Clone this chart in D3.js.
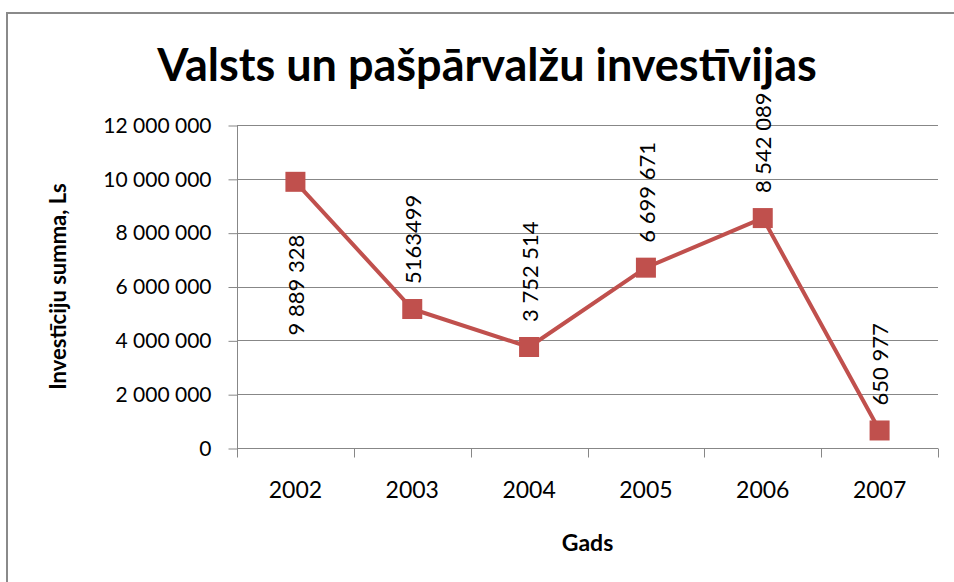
<!DOCTYPE html>
<html>
<head>
<meta charset="utf-8">
<script src="https://cdn.jsdelivr.net/npm/d3@7"></script>
<style>
  body { margin: 0; background: #fff; }
  text { font-family: Lato, "Open Sans", sans-serif; fill: #000; }
</style>
</head>
<body>
<svg id="chart"></svg>
<script>
var years = ["2002", "2003", "2004", "2005", "2006", "2007"];
var values = [9889328, 5163499, 3752514, 6699671, 8542089, 650977];
var labels = ["9 889 328", "5163499", "3 752 514", "6 699 671", "8 542 089", "650 977"];
var labelBelow = [true, false, false, false, false, false];
var yTicks = [0, 2000000, 4000000, 6000000, 8000000, 10000000, 12000000];

var W = 954, H = 582;
var plotLeft = 237, plotRight = 938, plotTop = 125, plotBottom = 448;
var red = "#C0504D", grid = "#878787";

var svg = d3.select("#chart")
  .attr("width", W)
  .attr("height", H);

// outer chart border
svg.append("rect")
  .attr("x", 7)
  .attr("y", 13)
  .attr("width", 960)
  .attr("height", 600)
  .attr("fill", "#fff")
  .attr("stroke", "#8a8a8a")
  .attr("stroke-width", 2);

var x = d3.scaleBand().domain(years).range([plotLeft, plotRight]);
var y = d3.scaleLinear().domain([0, 12000000]).range([plotBottom, plotTop]);

var fmt = function(v) { return d3.format(",")(v).replace(/,/g, " "); };

// gridlines
svg.append("g").selectAll("line")
  .data(yTicks)
  .enter().append("line")
  .attr("x1", plotLeft)
  .attr("x2", plotRight)
  .attr("y1", function(d) { return Math.round(y(d)) + 0.5; })
  .attr("y2", function(d) { return Math.round(y(d)) + 0.5; })
  .attr("stroke", grid)
  .attr("stroke-width", 1);

// y axis
var yAxis = svg.append("g")
  .attr("transform", "translate(" + (plotLeft + 0.5) + ",0.5)")
  .call(d3.axisLeft(y).tickValues(yTicks).tickSize(9).tickPadding(17).tickFormat(fmt));
yAxis.selectAll("line, path").attr("stroke", grid);
yAxis.select(".domain").attr("d", "M0," + plotTop + "V" + plotBottom);
yAxis.selectAll("text")
  .style("font-family", "Lato, sans-serif")
  .style("font-size", "21px")
  .attr("fill", "#000");

// x axis, ticks on category boundaries
var xAxis = svg.append("g")
  .attr("transform", "translate(0," + (plotBottom + 0.5) + ")");
xAxis.append("line")
  .attr("x1", plotLeft).attr("x2", plotRight)
  .attr("stroke", grid);
xAxis.selectAll(".tk")
  .data(years.concat(["end"]))
  .enter().append("line")
  .attr("class", "tk")
  .attr("x1", function(d, i) { return Math.round(plotLeft + i * x.step()) + 0.5; })
  .attr("x2", function(d, i) { return Math.round(plotLeft + i * x.step()) + 0.5; })
  .attr("y1", 0)
  .attr("y2", 9)
  .attr("stroke", grid);
xAxis.selectAll(".yl")
  .data(years)
  .enter().append("text")
  .attr("class", "yl")
  .attr("x", function(d) { return x(d) + x.bandwidth() / 2; })
  .attr("y", 49)
  .attr("text-anchor", "middle")
  .style("font-size", "23px")
  .text(function(d) { return d; });

// line
var pts = years.map(function(d, i) { return [x(d) + x.bandwidth() / 2, y(values[i])]; });
svg.append("path")
  .datum(pts)
  .attr("d", d3.line())
  .attr("fill", "none")
  .attr("stroke", red)
  .attr("stroke-width", 4)
  .attr("stroke-linejoin", "round");

// markers
svg.append("g").selectAll("rect")
  .data(pts)
  .enter().append("rect")
  .attr("x", function(d) { return d[0] - 10; })
  .attr("y", function(d) { return d[1] - 10; })
  .attr("width", 20)
  .attr("height", 20)
  .attr("fill", red);

// data labels, rotated
svg.append("g").selectAll("text")
  .data(pts)
  .enter().append("text")
  .attr("transform", function(d, i) {
    var ly = labelBelow[i] ? d[1] + 53 : d[1] - 25;
    return "translate(" + (d[0] + 1) + "," + ly + ")rotate(-90)";
  })
  .attr("text-anchor", function(d, i) { return labelBelow[i] ? "end" : "start"; })
  .attr("dy", "0.35em")
  .style("font-size", "22px")
  .text(function(d, i) { return labels[i]; });

// title
svg.append("text")
  .attr("x", 487)
  .attr("y", 81)
  .attr("text-anchor", "middle")
  .style("font-size", "45px")
  .style("font-weight", "bold")
  .text("Valsts un pašpārvalžu investīvijas");

// axis titles
svg.append("text")
  .attr("transform", "translate(58," + ((plotTop + plotBottom) / 2) + ")rotate(-90)")
  .attr("text-anchor", "middle")
  .attr("dy", "0.35em")
  .style("font-size", "22px")
  .style("font-weight", "bold")
  .text("Investīciju summa, Ls");

svg.append("text")
  .attr("x", (plotLeft + plotRight) / 2)
  .attr("y", 551)
  .attr("text-anchor", "middle")
  .style("font-size", "23px")
  .style("font-weight", "bold")
  .text("Gads");
</script>
</body>
</html>
